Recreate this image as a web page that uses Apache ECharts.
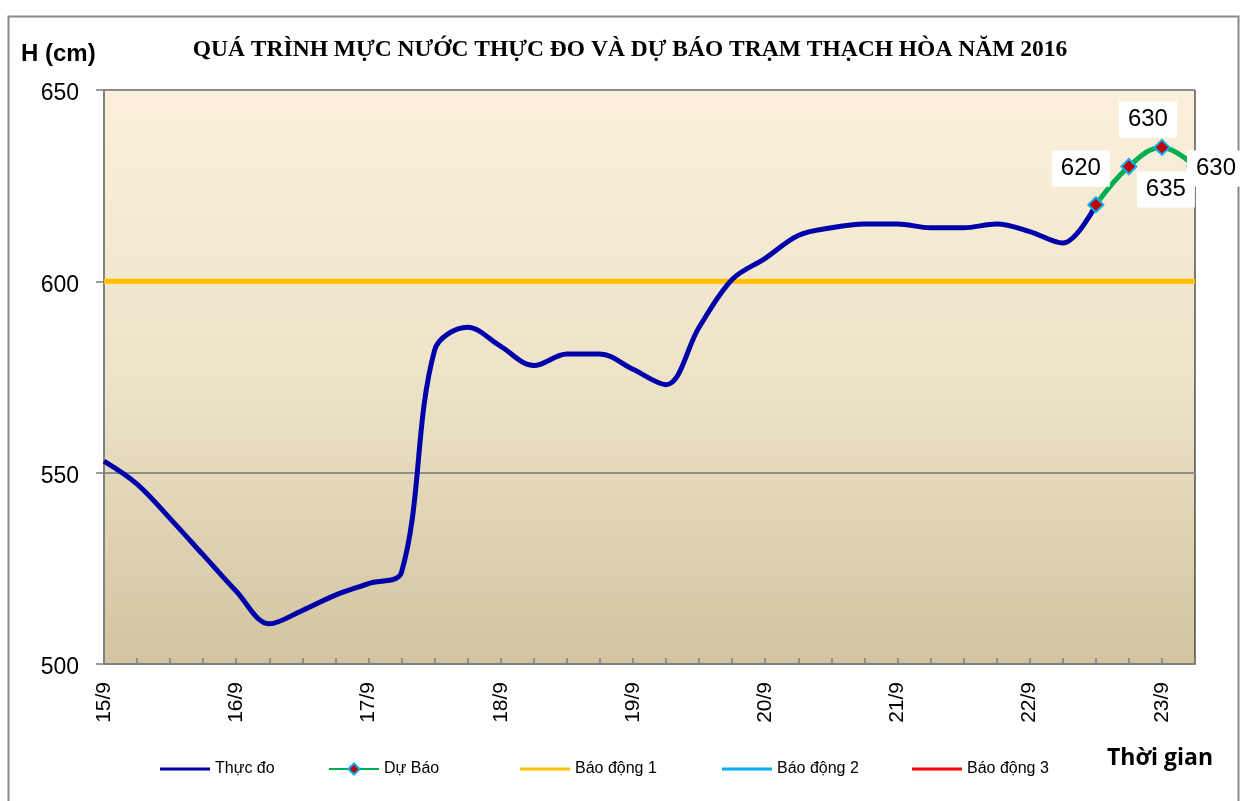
<!DOCTYPE html>
<html>
<head>
<meta charset="utf-8">
<script src="https://cdn.jsdelivr.net/npm/echarts@6/dist/echarts.min.js"></script>
<style>
  html, body { margin: 0; padding: 0; background: #fff; }
  #chart { width: 1242px; height: 801px; }
</style>
</head>
<body>
<div id="chart"></div>
<script>
// 6-hourly steps, 15/9 00h .. 23/9 06h
const days = ['15/9', '16/9', '17/9', '18/9', '19/9', '20/9', '21/9', '22/9', '23/9'];
const categories = [];
days.forEach(d => { for (let h = 0; h < 4; h++) categories.push(h === 0 ? d : d + ' ' + (h * 6) + 'h'); });
categories.length = 34;

// Thực đo (observed), up to 22/9 12h
const observed = [553, 547, 538, 528.5, 519, 510.5, 514, 518, 521, 524,
  582, 588, 583, 578, 581, 581, 577, 573, 588, 600.5,
  606, 612, 614, 615, 615, 614, 614, 615, 613, 610, 620];
// Dự Báo (forecast), from 22/9 12h
const forecast = [620, 630, 635, 630];
const forecastLabels = ['620', '635', '630', '630'];
const alarm1 = 600;

const chart = echarts.init(document.getElementById('chart'));

const forecastData = categories.map(() => null);
const labelOffsets = [[-15, -36], [37, 23], [-14, -28], [21, 2]];
forecast.forEach((v, i) => {
  forecastData[30 + i] = {
    value: v,
    label: { show: true, formatter: forecastLabels[i], offset: labelOffsets[i] }
  };
});

const legendText = { fontFamily: 'Liberation Sans', fontSize: 16, color: '#000' };
// plain line icon for series drawn without symbols
function lineLegend(left, name) {
  return { left: left, top: 756, itemWidth: 50, itemHeight: 3, icon: 'rect', textStyle: legendText, data: [name] };
}

chart.setOption({
  animation: false,
  backgroundColor: '#fff',
  title: [
    { text: 'QUÁ TRÌNH MỰC NƯỚC THỰC ĐO VÀ DỰ BÁO TRẠM THẠCH HÒA NĂM 2016', left: 625, top: 33, textAlign: 'center',
      textStyle: { fontFamily: 'Liberation Serif', fontWeight: 'bold', fontSize: 23.5, color: '#000' } },
    { text: 'H (cm)', left: 16, top: 37,
      textStyle: { fontFamily: 'Liberation Sans', fontWeight: 'bold', fontSize: 24, color: '#000' } },
    { text: 'Thời gian', left: 1102, top: 742,
      textStyle: { fontFamily: 'Open Sans', fontWeight: 'bold', fontSize: 23, color: '#000' } }
  ],
  graphic: [
    { type: 'rect', left: 6, top: 14, silent: true, z: -10,
      shape: { width: 1230, height: 800 },
      style: { fill: 'none', stroke: '#8a8a8a', lineWidth: 2 } }
  ],
  legend: [
    lineLegend(155, 'Thực đo'),
    { left: 323, top: 756, itemWidth: 50, itemHeight: 14, textStyle: legendText, data: ['Dự Báo'] },
    lineLegend(515, 'Báo động 1'),
    lineLegend(717, 'Báo động 2'),
    lineLegend(907, 'Báo động 3')
  ],
  grid: {
    left: 104, right: 47, top: 90, bottom: 137,
    show: true, borderColor: '#000', borderWidth: 1,
    backgroundColor: new echarts.graphic.LinearGradient(0, 0, 0, 1, [
      { offset: 0, color: '#fcf0dc' },
      { offset: 0.5, color: '#ede3c8' },
      { offset: 1, color: '#d2c4a0' }
    ])
  },
  xAxis: {
    type: 'category', data: categories, boundaryGap: false,
    axisLine: { lineStyle: { color: '#808080', width: 2 } },
    axisTick: { interval: 0, inside: true, length: 6, lineStyle: { color: '#808080', width: 1.5 } },
    axisLabel: {
      interval: 3, rotate: 90, margin: 18,
      formatter: v => v.indexOf(' ') < 0 ? v : '',
      fontFamily: 'Liberation Sans', fontSize: 21, color: '#000'
    },
    splitLine: { show: false }
  },
  yAxis: {
    type: 'value', min: 500, max: 650, interval: 50,
    axisLine: { show: true, lineStyle: { color: '#808080', width: 2 } },
    axisTick: { show: true, length: 8, lineStyle: { color: '#808080', width: 1.5 } },
    axisLabel: { margin: 25, verticalAlign: 'top', lineHeight: 8, fontFamily: 'Liberation Sans', fontSize: 23, color: '#000' },
    splitLine: { lineStyle: { color: '#8c8c8c', width: 2 } }
  },
  series: [
    {
      name: 'Báo động 1', type: 'line', data: categories.map(() => alarm1),
      symbol: 'none', lineStyle: { color: '#ffc000', width: 5 }, itemStyle: { color: '#ffc000' }, z: 2
    },
    {
      name: 'Báo động 2', type: 'line', data: [],
      symbol: 'none', lineStyle: { color: '#00b0f0', width: 3 }, itemStyle: { color: '#00b0f0' }
    },
    {
      name: 'Báo động 3', type: 'line', data: [],
      symbol: 'none', lineStyle: { color: '#ff0000', width: 3 }, itemStyle: { color: '#ff0000' }
    },
    {
      name: 'Thực đo', type: 'line', data: observed, smooth: 0.35,
      symbol: 'none', lineStyle: { color: '#0000aa', width: 5 }, itemStyle: { color: '#0000aa' }, z: 3
    },
    {
      name: 'Dự Báo', type: 'line', data: forecastData, smooth: 0.4,
      symbol: 'diamond', symbolSize: 15, showAllSymbol: true,
      lineStyle: { color: '#00b050', width: 5 },
      itemStyle: { color: '#c00000', borderColor: '#00b0f0', borderWidth: 2 },
      label: {
        position: 'inside', backgroundColor: '#fff', padding: [7, 9, 5, 9],
        fontFamily: 'Liberation Sans', fontSize: 24, color: '#000'
      },
      z: 4
    }
  ]
});
</script>
</body>
</html>
